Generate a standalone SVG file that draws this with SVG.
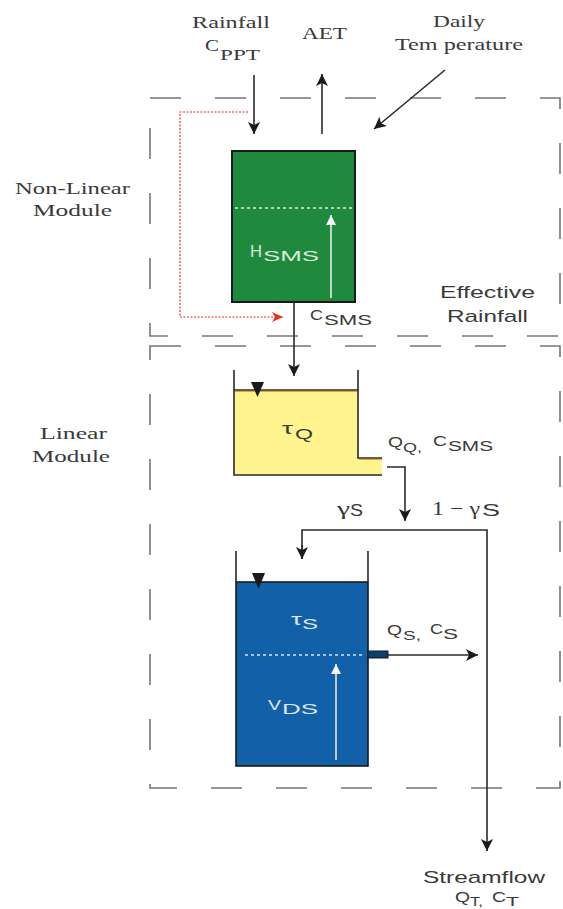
<svg xmlns="http://www.w3.org/2000/svg" width="563" height="909" viewBox="0 0 563 909">
<style>
.serif{font-family:"Liberation Serif","Times New Roman",serif;fill:#3a3a3a}
.sans{font-family:"Liberation Sans",Arial,sans-serif;fill:#3a3a3a}
.wt{fill:#dcecdc}
.bt{fill:#dce6f3}
.box{fill:none;stroke:#7d7276;stroke-width:1.6;stroke-dasharray:31 34}
.ln{fill:none;stroke:#2a2a2a;stroke-width:1.6}
</style>
<defs>
<marker id="ah" markerUnits="userSpaceOnUse" markerWidth="14" markerHeight="14" refX="12" refY="6" orient="auto">
<path d="M0,0 L12,6 L0,12 L3,6 Z" fill="#1a1a1a"/>
</marker>
<marker id="ahr" markerUnits="userSpaceOnUse" markerWidth="14" markerHeight="14" refX="11" refY="5" orient="auto">
<path d="M0,0 L11,5 L0,10 L3,5 Z" fill="#e8331f"/>
</marker>
<marker id="ahw" markerUnits="userSpaceOnUse" markerWidth="12" markerHeight="12" refX="10" refY="5" orient="auto">
<path d="M0,0 L10,5 L0,10 Z" fill="#f4f4f4"/>
</marker>
</defs>

<g id="modules">
<rect class="box" x="150" y="98" width="410" height="238"/>
<rect class="box" x="150" y="346" width="410" height="442"/>
<text class="serif" x="15" y="194" font-size="17" textLength="115" lengthAdjust="spacingAndGlyphs">Non-Linear</text>
<text class="serif" x="33" y="216" font-size="17" textLength="79" lengthAdjust="spacingAndGlyphs">Module</text>
<text class="serif" x="40" y="439" font-size="17" textLength="67" lengthAdjust="spacingAndGlyphs">Linear</text>
<text class="serif" x="32" y="462" font-size="17" textLength="78" lengthAdjust="spacingAndGlyphs">Module</text>
</g>

<g id="inputs">
<text class="serif" x="192" y="28" font-size="17" textLength="78" lengthAdjust="spacingAndGlyphs">Rainfall</text>
<text class="serif" x="205" y="51" font-size="17" textLength="14" lengthAdjust="spacingAndGlyphs">C</text>
<text class="serif" x="220" y="60" font-size="15" textLength="40" lengthAdjust="spacingAndGlyphs">PPT</text>
<text class="serif" x="302" y="39" font-size="17" textLength="45" lengthAdjust="spacingAndGlyphs">AET</text>
<text class="serif" x="433" y="27" font-size="17" textLength="52" lengthAdjust="spacingAndGlyphs">Daily</text>
<text class="serif" x="395" y="50" font-size="17" textLength="128" lengthAdjust="spacingAndGlyphs">Tem perature</text>
</g>

<g id="sms-tank">
<rect x="232" y="151" width="123" height="151" fill="#1f8a3d" stroke="#1a1a1a" stroke-width="2"/>
<line x1="235" y1="208" x2="352" y2="208" stroke="#d8f0d8" stroke-width="1.5" stroke-dasharray="3 3"/>
<line x1="331" y1="298" x2="331" y2="215" stroke="#f4f4f4" stroke-width="1.5" marker-end="url(#ahw)"/>
<text class="sans wt" x="250" y="257" font-size="16" textLength="12" lengthAdjust="spacingAndGlyphs">H</text>
<text class="sans wt" x="263" y="261" font-size="15" textLength="56" lengthAdjust="spacingAndGlyphs">SMS</text>
</g>

<g id="labels">
<text class="sans" x="310" y="320" font-size="15" textLength="13" lengthAdjust="spacingAndGlyphs">C</text>
<text class="sans" x="324" y="325" font-size="15" textLength="48" lengthAdjust="spacingAndGlyphs">SMS</text>
<text class="sans" x="440" y="298" font-size="17" textLength="95" lengthAdjust="spacingAndGlyphs">Effective</text>
<text class="sans" x="447" y="322" font-size="17" textLength="81" lengthAdjust="spacingAndGlyphs">Rainfall</text>
</g>

<g id="quick-tank">
<path d="M234,390 H358 V458 H382 V475 H234 Z" fill="#fff48e"/>
<path d="M235,391.5 H357 M359,459.5 H382" stroke="#f0a030" stroke-width="1.2" fill="none"/>
<path class="ln" d="M234,370 V475 H382 M358,370 V458 H382 M234,390 H358"/>
<path d="M251,382 H264 L257.5,397 Z" fill="#1a1a1a"/>
<text class="sans" x="282" y="434" font-size="16" textLength="11" lengthAdjust="spacingAndGlyphs">τ</text>
<text class="sans" x="295" y="439" font-size="15" textLength="18" lengthAdjust="spacingAndGlyphs">Q</text>
<text class="sans" x="388" y="447" font-size="14" textLength="15" lengthAdjust="spacingAndGlyphs">Q</text>
<text class="sans" x="403" y="452" font-size="13" textLength="19" lengthAdjust="spacingAndGlyphs">Q,</text>
<text class="sans" x="433" y="446" font-size="14" textLength="14" lengthAdjust="spacingAndGlyphs">C</text>
<text class="sans" x="448" y="451" font-size="14" textLength="45" lengthAdjust="spacingAndGlyphs">SMS</text>
</g>

<g id="slow-tank">
<rect x="236" y="582" width="132" height="184" fill="#1260a8" stroke="#1a1a1a" stroke-width="1.6"/>
<path class="ln" d="M236,551 V582 M368,551 V582"/>
<rect x="368" y="651" width="20" height="7" fill="#0c3f72" stroke="#1a1a1a" stroke-width="1"/>
<line x1="245" y1="655" x2="362" y2="655" stroke="#d8e4f4" stroke-width="1.5" stroke-dasharray="3 3"/>
<line x1="336" y1="760" x2="336" y2="664" stroke="#f0f0f0" stroke-width="1.5" marker-end="url(#ahw)"/>
<path d="M252,573 H265 L258.5,589 Z" fill="#1a1a1a"/>
<text class="sans bt" x="291" y="625" font-size="16" textLength="11" lengthAdjust="spacingAndGlyphs">τ</text>
<text class="sans bt" x="302" y="629" font-size="15" textLength="16" lengthAdjust="spacingAndGlyphs">S</text>
<text class="sans bt" x="268" y="710" font-size="15" textLength="13" lengthAdjust="spacingAndGlyphs">V</text>
<text class="sans bt" x="282" y="714" font-size="15" textLength="36" lengthAdjust="spacingAndGlyphs">DS</text>
<text class="sans" x="387" y="635" font-size="14" textLength="15" lengthAdjust="spacingAndGlyphs">Q</text>
<text class="sans" x="403" y="640" font-size="13" textLength="18" lengthAdjust="spacingAndGlyphs">S,</text>
<text class="sans" x="430" y="634" font-size="14" textLength="13" lengthAdjust="spacingAndGlyphs">C</text>
<text class="sans" x="443" y="639" font-size="14" textLength="15" lengthAdjust="spacingAndGlyphs">S</text>
</g>

<g id="split-labels">
<text class="serif" x="337" y="515" font-size="19" textLength="13" lengthAdjust="spacingAndGlyphs">γ</text>
<text class="sans" x="350" y="516" font-size="16" textLength="13" lengthAdjust="spacingAndGlyphs">S</text>
<text class="serif" x="432" y="515" font-size="19" textLength="48" lengthAdjust="spacingAndGlyphs">1 − γ</text>
<text class="sans" x="482" y="516" font-size="16" textLength="18" lengthAdjust="spacingAndGlyphs">S</text>
</g>

<g id="streamflow">
<text class="sans" x="423" y="883" font-size="17" textLength="122" lengthAdjust="spacingAndGlyphs">Streamflow</text>
<text class="sans" x="455" y="902" font-size="14" textLength="15" lengthAdjust="spacingAndGlyphs">Q</text>
<text class="sans" x="470" y="906" font-size="13" textLength="13" lengthAdjust="spacingAndGlyphs">T,</text>
<text class="sans" x="492" y="902" font-size="14" textLength="14" lengthAdjust="spacingAndGlyphs">C</text>
<text class="sans" x="506" y="906" font-size="13" textLength="13" lengthAdjust="spacingAndGlyphs">T</text>
</g>

<g id="connectors">
<line class="ln" x1="254" y1="75" x2="254" y2="134" marker-end="url(#ah)"/>
<line class="ln" x1="322" y1="134" x2="322" y2="74" marker-end="url(#ah)"/>
<line class="ln" x1="445" y1="70" x2="374" y2="129" marker-end="url(#ah)"/>
<path d="M248,112 H180 V317 H283" fill="none" stroke="#e8331f" stroke-width="1.2" stroke-dasharray="2 1.5" marker-end="url(#ahr)"/>
<line class="ln" x1="294" y1="302" x2="294" y2="376" marker-end="url(#ah)"/>
<path class="ln" d="M387,467 H405 V521" marker-end="url(#ah)"/>
<path class="ln" d="M302,559 V530 H487 V851" marker-end="url(#ah)"/>
<line class="ln" x1="302" y1="545" x2="302" y2="559" marker-end="url(#ah)"/>
<line class="ln" x1="388" y1="655" x2="478" y2="655" marker-end="url(#ah)"/>
</g>
</svg>
